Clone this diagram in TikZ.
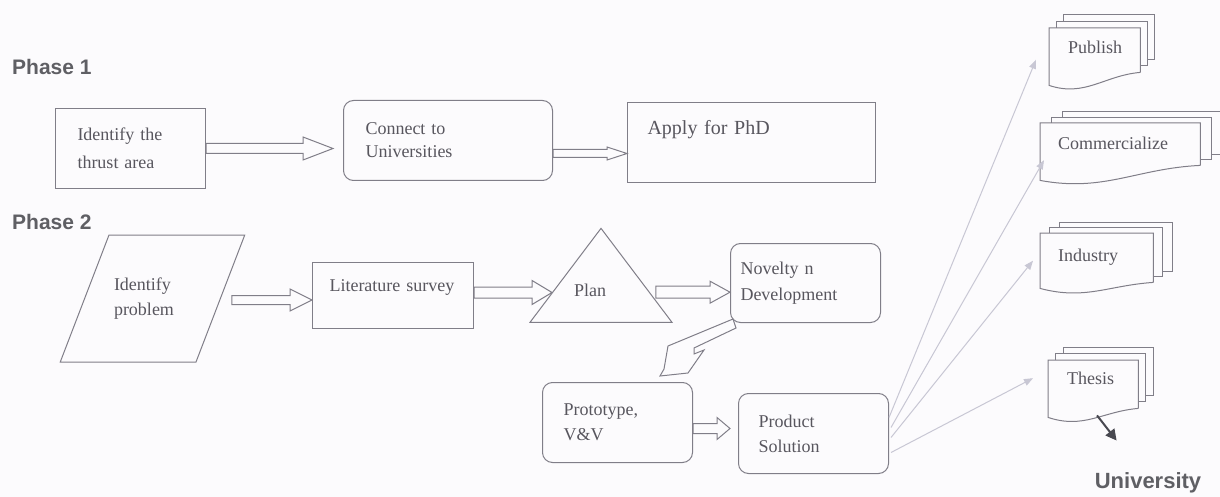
\documentclass[tikz,border=0pt]{standalone}
\usepackage{fontspec}
\setmainfont{Liberation Serif}
\newfontfamily\phasefont{Liberation Sans}
\usetikzlibrary{calc,arrows.meta,shapes.geometric}

\definecolor{bgpaper}{RGB}{252,251,253}
\definecolor{boxline}{RGB}{128,126,136}
\definecolor{boxtext}{RGB}{88,86,94}
\definecolor{faintline}{RGB}{200,199,212}
\definecolor{darkarrow}{RGB}{72,72,80}
\definecolor{phasegray}{RGB}{95,95,100}

\newcommand{\blockarrow}[5]{%
  \draw[boxline,line width=1pt,line join=miter,fill=bgpaper] let \p1=#1, \p2=#2 in
    (\x1,\y1+#3) -- (\x2-#5,\y1+#3) -- (\x2-#5,\y1+#4) -- (\x2,\y1)
    -- (\x2-#5,\y1-#4) -- (\x2-#5,\y1-#3) -- (\x1,\y1-#3) -- cycle;}

\newcommand{\docstack}[5]{%
  \foreach \k in {1,2}{
    \draw[docline] ($(#1.north west)+({\k*#2},{-(\k-1)*#3})$) -- ($(#1.north west)+({\k*#2},{-\k*#3})$)
      -- ($(#1.north east)+({\k*#2},{-\k*#3})$) -- ($(#1.south east)+({\k*#2},{-#4-\k*#3})$)
      -- ($(#1.south east)+({(\k-1)*#2},{-#4-\k*#3})$);
  }
  \draw[docline] ($(#1.south east)+(0,-#4)$) -- (#1.north east) -- (#1.north west) -- (#1.south west)
    .. controls +(#5,12) and +(-#5,3) .. ($(#1.south east)+(0,-#4)$);}

\begin{document}
\begin{tikzpicture}[x=1pt,y=-1pt,
  every node/.style={text=boxtext,font=\fontsize{18}{25}\selectfont},
  box/.style={draw=boxline,line width=1pt,anchor=north west,inner ysep=0pt,align=left},
  round box/.style={box,rounded corners=10pt},
  doc/.style={anchor=north west,inner ysep=0pt,align=left},
  docline/.style={draw=boxline,line width=1pt},
  phase/.style={font=\phasefont\bfseries\fontsize{21}{21}\selectfont,text=phasegray,anchor=west,inner sep=0pt}]

\useasboundingbox (0,0) rectangle (1220,497);
\fill[bgpaper] (0,0) rectangle (1220,497);

\node[phase] (ph1) at (12,67) {Phase 1};
\node[phase] (ph2) at (12,222) {Phase 2};

\node[box,text width=106pt,inner xsep=22pt,minimum height=80pt,font=\fontsize{18}{28}\selectfont] (b1) at (55,108) {Identify the\\thrust area};
\node[round box,text width=165pt,inner xsep=22pt,minimum height=80pt,font=\fontsize{18}{23}\selectfont] (b2) at (343,100) {Connect to\\Universities};
\node[box,text width=208pt,inner xsep=20pt,text height=32pt,text depth=48pt,font=\fontsize{20}{24}\selectfont] (b3) at (627,102) {Apply for PhD};

\node[draw=boxline,line width=1pt,trapezium,trapezium left angle=69,trapezium right angle=111,
  text width=77pt,inner xsep=5pt,inner ysep=0pt,text height=55pt,text depth=72pt,align=left] (idp) at (152.5,298.5) {Identify\\problem};
\node[box,text width=127pt,inner xsep=17pt,text height=29pt,text depth=37pt] (lit) at (312,262) {Literature survey};
\node[draw=boxline,line width=1pt,isosceles triangle,isosceles triangle stretches,shape border rotate=90,
  minimum width=142pt,minimum height=94pt,inner sep=0pt,
  label={[xshift=-11pt,yshift=-3pt]center:Plan}] (plan) at (601,287) {};
\node[round box,text width=130pt,inner xsep=10pt,minimum height=79pt,font=\fontsize{18}{26}\selectfont] (nov) at (730,243) {Novelty n\\Development};
\node[round box,text width=108pt,inner xsep=21pt,minimum height=80pt] (proto) at (542,382) {Prototype,\\V\&V};
\node[round box,text width=110pt,inner xsep=20pt,minimum height=80pt] (prod) at (738,393) {Product\\Solution};

\node[doc,text width=53pt,inner xsep=19pt,text height=25pt,text depth=32pt] (pub) at (1049,28) {Publish};
\node[doc,text width=124pt,inner xsep=18pt,text height=26pt,text depth=31pt] (com) at (1040,123) {Commercialize};
\node[doc,text width=77pt,inner xsep=18pt,text height=28pt,text depth=27pt] (ind) at (1040,233) {Industry};
\node[doc,text width=52pt,inner xsep=19pt,text height=24pt,text depth=33pt] (the) at (1048,360) {Thesis};
\node[phase,anchor=center,font=\phasefont\bfseries\fontsize{22}{22}\selectfont] (univ) at (1148,483) {University};

\docstack{pub}{7}{6.5}{13}{36}
\docstack{com}{11}{5.5}{15}{64}
\docstack{ind}{9.5}{5.5}{6}{45}
\docstack{the}{7.5}{6.5}{9}{36}

\blockarrow{(b1.east)}{($(b2.west)+(-10,0)$)}{5pt}{11.5pt}{30pt}
\blockarrow{($(b2.east)+(0,13)$)}{(b3.west)}{4pt}{6.5pt}{20pt}
\blockarrow{($(idp.east)+(11,1.5)$)}{(lit.west)}{4.5pt}{11pt}{22pt}
\blockarrow{($(lit.east)+(0,-3)$)}{($(plan.apex)!0.68!(plan.left corner)$)}{5.5pt}{12pt}{20pt}
\blockarrow{($(plan.apex)!0.68!(plan.right corner)+(6,0)$)}{(nov.west)}{6pt}{11pt}{20pt}
\blockarrow{($(proto.east)+(0,6)$)}{($(prod.west)+(-8,0)$)}{5pt}{11pt}{13pt}

\draw[boxline,line width=1pt,fill=bgpaper,line join=miter] ($(nov.south west)+(3,-4)$) -- ($(nov.south west)+(-62,23)$)
  -- ($(nov.south west)+(-66,46)$) -- ($(nov.south west)+(-70,53)$) -- ($(nov.south west)+(-42,50)$)
  -- ($(nov.south west)+(-26,27)$) -- ($(nov.south west)+(-36,31)$) -- ($(nov.south west)+(-36,25)$)
  -- ($(nov.south west)+(6,5)$) -- cycle;

\path[faintline,line width=1pt,-{Triangle[length=9pt,width=7pt]}]
  ($(prod.east)+(0,-16)$) edge ($(pub.west)+(-13,3)$)
  ($(prod.east)+(2,-6)$) edge ($(com.west)+(4,8.5)$)
  ($(prod.east)+(2,4)$) edge ($(ind.west)+(-7,0)$)
  ($(prod.east)+(2,19)$) edge ($(the.west)+(-15,-10.5)$);

\draw[darkarrow,line width=2pt,-{Triangle[length=11pt,width=11pt]}] ($(the.south west)+(49,-2)$) -- ($(univ.north west)+(22,-32)$);
\end{tikzpicture}
\end{document}
